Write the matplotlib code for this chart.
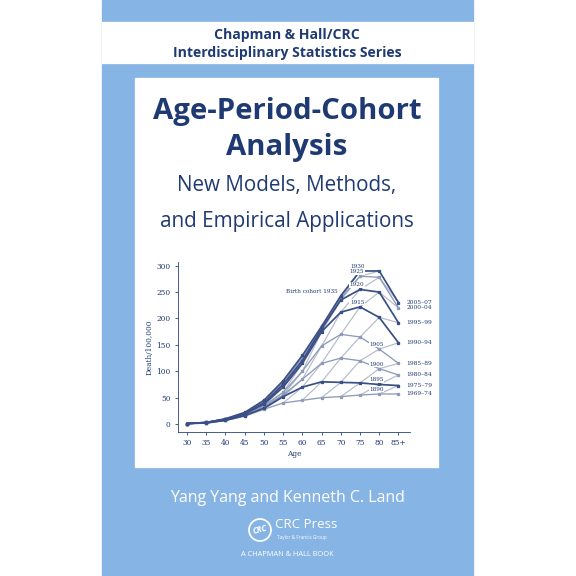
import numpy as np
import matplotlib.pyplot as plt
from matplotlib.patches import Rectangle, Circle

# age profile of each period (deaths per 100,000)
ages = ["30", "35", "40", "45", "50", "55", "60", "65", "70", "75", "80", "85+"]
periods = ["1969–74", "1975–79", "1980–84", "1985–89", "1990–94", "1995–99", "2000–04", "2005–07"]
rates = [
    [1, 2, 7, 15, 28, 40, 45, 50, 52, 55, 57, 57],
    [1, 2, 7, 16, 30, 52, 70, 80, 79, 78, 75, 73],
    [1, 2, 8, 17, 33, 55, 85, 115, 125, 120, 105, 93],
    [1, 2, 8, 18, 35, 60, 100, 148, 170, 165, 142, 115],
    [1, 3, 9, 19, 38, 70, 115, 175, 212, 222, 202, 154],
    [1, 3, 9, 20, 40, 75, 120, 180, 235, 255, 250, 192],
    [1, 3, 10, 21, 42, 78, 125, 182, 238, 280, 278, 220],
    [1, 3, 10, 22, 45, 82, 130, 185, 243, 290, 290, 230],
]
dark_periods = ["1975–79", "1990–94", "1995–99", "2005–07"]
cohort_labels = [("Birth cohort 1935", 7, 8), ("1930", 7, 9), ("1925", 6, 9), ("1920", 5, 9),
                 ("1915", 4, 9), ("1905", 3, 10), ("1900", 2, 10), ("1895", 1, 10), ("1890", 0, 10)]

blue = "#86b4e4"
navy = "#1f3a73"
W = 576.0

def fx(px):
    return px / W

def fy(py):
    return 1 - py / W

fig = plt.figure(figsize=(6, 6), dpi=96)
fig.patch.set_facecolor("white")
bg = fig.add_axes([0, 0, 1, 1])
bg.set_xlim(0, W)
bg.set_ylim(W, 0)
bg.axis("off")
bg.add_patch(Rectangle((102, 0), 371, 576, color=blue))
bg.add_patch(Rectangle((102, 22), 371, 41, color="white"))
bg.add_patch(Rectangle((135, 78), 303, 389, color="white"))

fam = ["Open Sans", "DejaVu Sans"]
bg.text(287, 35, "Chapman & Hall/CRC", ha="center", va="center", color=navy,
        fontsize=10.5, fontweight="bold", family=fam)
bg.text(287, 53, "Interdisciplinary Statistics Series", ha="center", va="center", color=navy,
        fontsize=10.5, fontweight="bold", family=fam)
bg.text(287, 112, "Age-Period-Cohort", ha="center", va="center", color=navy,
        fontsize=22, fontweight="bold", family=fam)
bg.text(287, 148, "Analysis", ha="center", va="center", color=navy,
        fontsize=22, fontweight="bold", family=fam)
bg.text(287, 186, "New Models, Methods,", ha="center", va="center", color=navy,
        fontsize=15.5, family=fam)
bg.text(287, 221, "and Empirical Applications", ha="center", va="center", color=navy,
        fontsize=15.5, family=fam)
bg.text(287, 498, "Yang Yang and Kenneth C. Land", ha="center", va="center", color="white",
        fontsize=12, family=fam)
bg.add_patch(Circle((260, 530), 11, fill=False, ec="white", lw=1.3))
bg.text(260, 530, "CRC", ha="center", va="center", color="white", fontsize=6,
        fontstyle="italic", fontweight="bold", family=fam, rotation=15)
bg.text(275, 525, "CRC Press", ha="left", va="center", color="white", fontsize=10, family=fam)
bg.text(277, 538, "Taylor & Francis Group", ha="left", va="center", color="white", fontsize=3.5, family=fam)
bg.text(287, 554, "A CHAPMAN & HALL BOOK", ha="center", va="center", color="white",
        fontsize=5.5, family=fam)

ax = fig.add_axes([fx(178), fy(432), (410 - 178) / W, (432 - 262) / W])
ax.set_facecolor("white")
x = np.arange(len(ages))
r = np.array(rates, dtype=float)
n_p, n_a = r.shape
# cohort lines along diagonals
for k in range(-(n_a - 1), n_p):
    ii = [i for i in range(n_p) if 0 <= i - k < n_a]
    if len(ii) < 2:
        continue
    jj = [i - k for i in ii]
    ax.plot(x[jj], r[ii, jj], color="#b5bccb", lw=0.9, zorder=1)
for i, p in enumerate(periods):
    dark = p in dark_periods
    ax.plot(x, r[i], color="#3a4f86" if dark else "#8f9bb8", lw=1.3 if dark else 1.0,
            marker="s", ms=2.2, zorder=3 if dark else 2)
    ax.text(11.4, r[i, -1], p, fontsize=4.5, color=navy, va="center", family="DejaVu Serif",
            clip_on=False)
for lab, i, j in cohort_labels:
    ax.text(x[j] - 0.15, r[i, j] + 4, lab, fontsize=4.3, color=navy, ha="right" if i == 7 and j == 8 else "center",
            va="bottom", family="DejaVu Serif",
            bbox=dict(fc="white", ec="none", pad=0.3))

ax.set_xlim(-0.47, 11.6)
ax.set_ylim(-15, 307)
ax.set_xticks(x)
ax.set_xticklabels(ages)
ax.set_yticks(range(0, 301, 50))
ax.tick_params(labelsize=5.5, colors=navy, length=2, width=0.6)
for s in ["top", "right"]:
    ax.spines[s].set_visible(False)
for s in ["left", "bottom"]:
    ax.spines[s].set_color(navy)
    ax.spines[s].set_linewidth(0.6)
for t in ax.get_xticklabels() + ax.get_yticklabels():
    t.set_family("DejaVu Serif")
ax.set_xlabel("Age", fontsize=5.5, color=navy, family="DejaVu Serif", labelpad=2)
ax.set_ylabel("Death/100,000", fontsize=5.5, color=navy, family="DejaVu Serif", labelpad=2)

fig.savefig("out.png", dpi=96)
